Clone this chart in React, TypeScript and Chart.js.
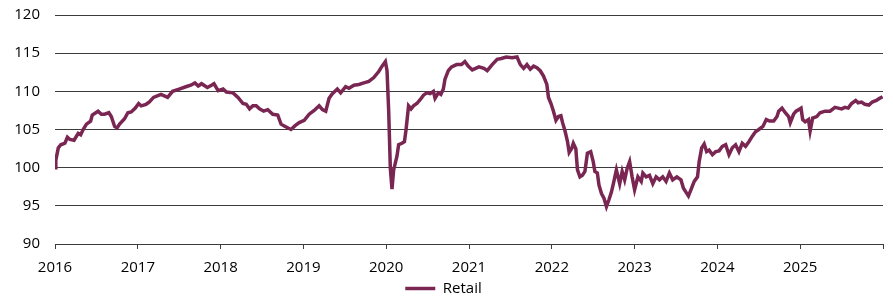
import React, { useEffect, useRef } from "react";
import { Chart, registerables } from "chart.js";

Chart.register(...registerables);

// Decimal-year positions of the weekly series
const dates: number[] = [
  2016.0, 2016.01, 2016.04, 2016.07, 2016.12, 2016.15, 2016.18, 2016.23, 2016.28, 2016.31,
  2016.34, 2016.38, 2016.43, 2016.45, 2016.52, 2016.56, 2016.6, 2016.65, 2016.68, 2016.72,
  2016.75, 2016.78, 2016.84, 2016.88, 2016.92, 2016.97, 2017.01, 2017.04, 2017.1, 2017.14,
  2017.19, 2017.28, 2017.36, 2017.42, 2017.5, 2017.58, 2017.64, 2017.69, 2017.73, 2017.77,
  2017.84, 2017.89, 2017.92, 2017.97, 2018.03, 2018.07, 2018.15, 2018.21, 2018.27, 2018.31,
  2018.35, 2018.39, 2018.43, 2018.47, 2018.52, 2018.57, 2018.63, 2018.69, 2018.73, 2018.78,
  2018.85, 2018.9, 2018.95, 2019.01, 2019.07, 2019.13, 2019.19, 2019.23, 2019.27, 2019.31,
  2019.35, 2019.41, 2019.45, 2019.51, 2019.55, 2019.61, 2019.67, 2019.73, 2019.79, 2019.85,
  2019.91, 2019.95, 2019.99, 2020.01, 2020.03, 2020.05, 2020.07, 2020.09, 2020.13, 2020.15,
  2020.19, 2020.22, 2020.24, 2020.27, 2020.3, 2020.33, 2020.37, 2020.41, 2020.45, 2020.49,
  2020.53, 2020.57, 2020.59, 2020.63, 2020.66, 2020.69, 2020.71, 2020.75, 2020.79, 2020.85,
  2020.91, 2020.95, 2020.99, 2021.04, 2021.12, 2021.18, 2021.22, 2021.28, 2021.34, 2021.39,
  2021.45, 2021.52, 2021.58, 2021.62, 2021.66, 2021.7, 2021.74, 2021.78, 2021.82, 2021.86,
  2021.9, 2021.94, 2021.96, 2021.99, 2022.02, 2022.05, 2022.08, 2022.11, 2022.13, 2022.16,
  2022.19, 2022.21, 2022.24, 2022.26, 2022.29, 2022.31, 2022.34, 2022.37, 2022.4, 2022.43,
  2022.47, 2022.5, 2022.52, 2022.55, 2022.57, 2022.6, 2022.63, 2022.66, 2022.69, 2022.72,
  2022.75, 2022.78, 2022.8, 2022.82, 2022.85, 2022.88, 2022.91, 2022.94, 2022.97, 2023.0,
  2023.04, 2023.08, 2023.1, 2023.14, 2023.18, 2023.22, 2023.26, 2023.3, 2023.34, 2023.38,
  2023.42, 2023.46, 2023.51, 2023.56, 2023.59, 2023.62, 2023.65, 2023.68, 2023.72, 2023.76,
  2023.78, 2023.81, 2023.84, 2023.87, 2023.9, 2023.94, 2023.98, 2024.02, 2024.06, 2024.1,
  2024.14, 2024.18, 2024.22, 2024.26, 2024.3, 2024.34, 2024.38, 2024.42, 2024.46, 2024.5,
  2024.55, 2024.59, 2024.63, 2024.68, 2024.72, 2024.74, 2024.78, 2024.82, 2024.86, 2024.88,
  2024.92, 2024.95, 2024.98, 2025.01, 2025.03, 2025.06, 2025.1, 2025.12, 2025.15, 2025.2,
  2025.24, 2025.3, 2025.36, 2025.42, 2025.46, 2025.5, 2025.54, 2025.58, 2025.62, 2025.67,
  2025.7, 2025.74, 2025.78, 2025.83, 2025.87, 2025.92, 2025.96, 2025.995,
];

const retail: number[] = [
  100.0, 101.0, 102.6, 103.0, 103.2, 104.0, 103.7, 103.6, 104.5, 104.3,
  105.0, 105.7, 106.1, 106.9, 107.4, 107.0, 107.0, 107.2, 106.7, 105.4,
  105.2, 105.7, 106.4, 107.2, 107.3, 107.8, 108.4, 108.1, 108.3, 108.6,
  109.2, 109.6, 109.2, 110.0, 110.3, 110.6, 110.8, 111.1, 110.7, 111.0,
  110.5, 110.8, 111.0, 110.1, 110.3, 109.9, 109.8, 109.2, 108.4, 108.3,
  107.7, 108.1, 108.1, 107.7, 107.4, 107.6, 107.0, 106.9, 105.7, 105.4,
  105.0, 105.5, 105.9, 106.2, 107.0, 107.5, 108.1, 107.6, 107.4, 109.1,
  109.7, 110.3, 109.8, 110.6, 110.4, 110.8, 110.9, 111.1, 111.3, 111.8,
  112.6, 113.3, 113.9, 112.7, 107.4, 99.9, 97.2, 99.7, 101.5, 103.0,
  103.2, 103.4, 105.0, 108.1, 107.7, 108.1, 108.4, 108.9, 109.5, 109.8,
  109.7, 110.0, 109.1, 109.8, 109.6, 110.3, 111.6, 112.7, 113.2, 113.5,
  113.5, 113.9, 113.3, 112.8, 113.2, 113.0, 112.7, 113.5, 114.2, 114.3,
  114.5, 114.4, 114.5, 113.5, 113.0, 113.5, 112.9, 113.3, 113.1, 112.7,
  112.0, 110.9, 109.2, 108.4, 107.4, 106.2, 106.7, 106.8, 105.9, 104.8,
  103.4, 102.0, 102.5, 103.2, 102.5, 99.7, 98.8, 99.0, 99.5, 101.9,
  102.1, 100.8, 99.5, 99.3, 97.7, 96.6, 96.0, 94.9, 95.8, 96.8,
  98.2, 99.7, 98.8, 97.9, 99.5, 98.4, 99.9, 100.8, 98.8, 97.1,
  98.8, 98.2, 99.3, 98.8, 99.0, 97.9, 98.8, 98.4, 98.8, 98.2,
  99.3, 98.4, 98.8, 98.4, 97.3, 96.8, 96.3, 97.1, 98.2, 98.8,
  100.8, 102.6, 103.1, 102.1, 102.3, 101.7, 102.1, 102.2, 102.8, 103.0,
  101.7, 102.6, 103.0, 102.1, 103.2, 102.8, 103.4, 104.1, 104.7, 105.0,
  105.4, 106.3, 106.1, 106.1, 106.7, 107.4, 107.8, 107.2, 106.7, 105.9,
  107.0, 107.4, 107.6, 107.8, 106.3, 106.0, 106.3, 104.8, 106.5, 106.7,
  107.2, 107.4, 107.4, 107.9, 107.8, 107.7, 107.9, 107.8, 108.4, 108.8,
  108.5, 108.6, 108.3, 108.2, 108.6, 108.8, 109.1, 109.3,
];

const seriesLabel = "Retail";
const yearTicks: number[] = [2016, 2017, 2018, 2019, 2020, 2021, 2022, 2023, 2024, 2025, 2026];
const yMin = 90;
const yMax = 120;
const yStep = 5;

const LINE_COLOR = "#7a2652";
const GRID_COLOR = "#3c3c3c";
const FONT = "'Open Sans', 'Noto Sans', sans-serif";

export default function App() {
  const canvasRef = useRef<HTMLCanvasElement | null>(null);

  useEffect(() => {
    document.body.style.margin = "0";
    const canvas = canvasRef.current;
    if (!canvas) return;
    const points = dates.map((d, i) => ({ x: d, y: retail[i] }));
    const chart = new Chart(canvas, {
      type: "line",
      data: {
        datasets: [
          {
            label: seriesLabel,
            data: points,
            borderColor: LINE_COLOR,
            backgroundColor: LINE_COLOR,
            borderWidth: 3.5,
            pointRadius: 0,
            tension: 0,
          },
        ],
      },
      options: {
        animation: false,
        responsive: false,
        devicePixelRatio: 1,
        layout: { padding: { top: 15, right: 6, left: 0, bottom: -4 } },
        plugins: {
          tooltip: { enabled: false },
          legend: {
            position: "bottom",
            labels: {
              usePointStyle: true,
              pointStyle: "line",
              pointStyleWidth: 30,
              boxHeight: 3,
              color: "#000",
              padding: 1,
              font: { family: FONT, size: 15 },
            },
          },
        },
        scales: {
          x: {
            type: "linear",
            min: yearTicks[0],
            max: yearTicks[yearTicks.length - 1],
            afterBuildTicks: (scale: any) => {
              scale.ticks = yearTicks.map((v) => ({ value: v }));
            },
            afterFit: (scale: any) => {
              scale.height = 36;
            },
            ticks: {
              autoSkip: false,
              maxRotation: 0,
              padding: 10,
              color: "#000",
              font: { family: FONT, size: 15 },
              callback: (v: any) => (v === 2026 ? "" : String(v)),
            },
            grid: {
              display: true,
              drawOnChartArea: false,
              drawTicks: true,
              tickLength: 5,
              color: GRID_COLOR,
            },
            border: { display: true, color: GRID_COLOR, width: 1 },
          },
          y: {
            min: yMin,
            max: yMax,
            afterFit: (scale: any) => {
              scale.width = 55;
            },
            ticks: {
              stepSize: yStep,
              padding: 0,
              color: "#000",
              font: { family: FONT, size: 15 },
            },
            grid: {
              color: GRID_COLOR,
              drawTicks: true,
              tickLength: 15,
              tickColor: "rgba(0,0,0,0)",
            },
            border: { display: false },
          },
        },
      },
    });
    return () => chart.destroy();
  }, []);

  return (
    <div style={{ width: 893, height: 302 }}>
      <canvas ref={canvasRef} width={893} height={302} />
    </div>
  );
}
